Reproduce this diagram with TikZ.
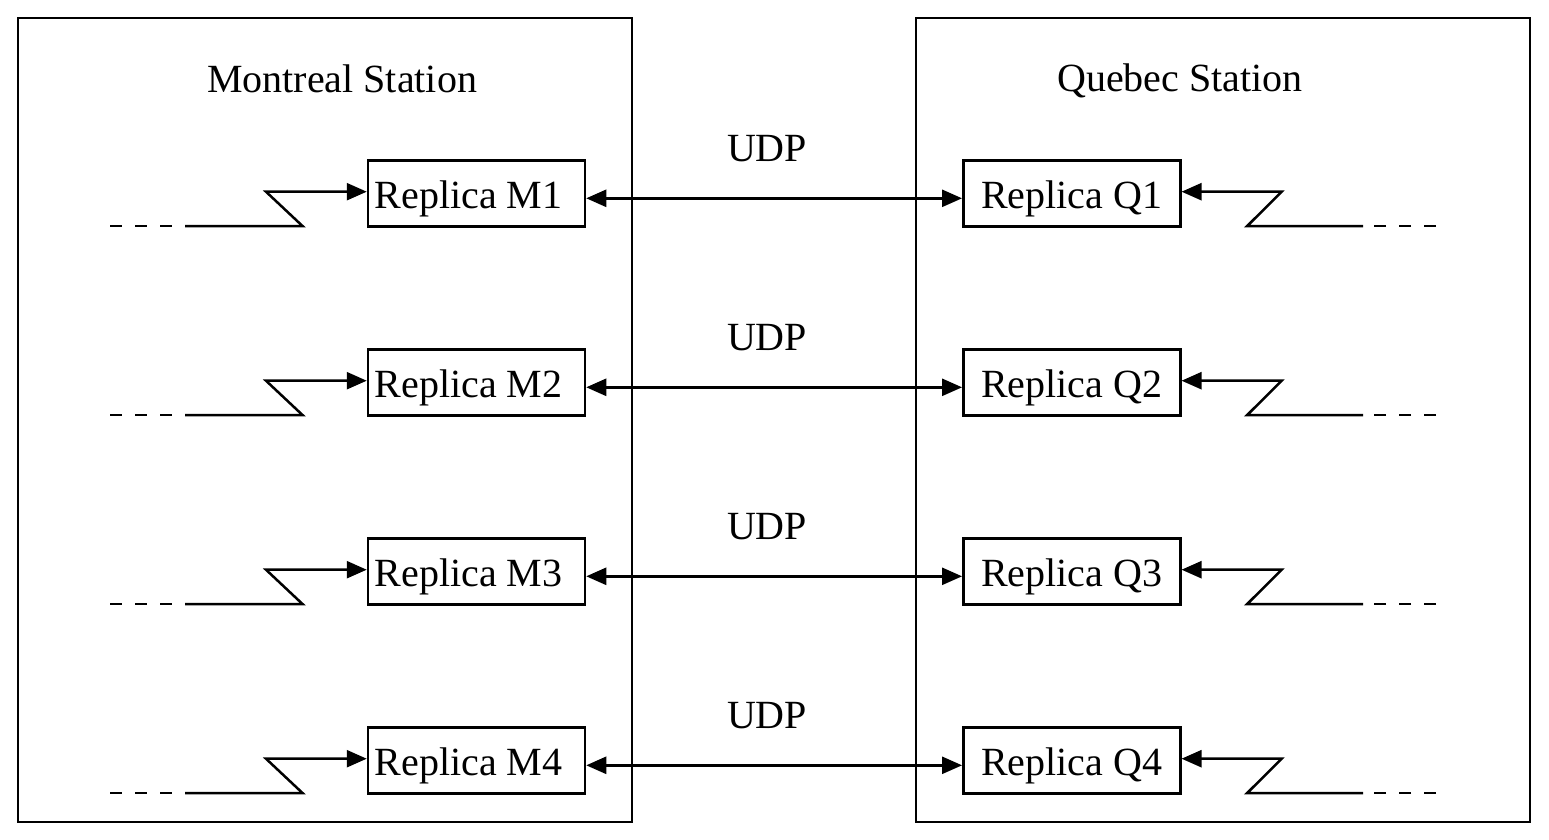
\documentclass[tikz,border=0pt]{standalone}
\usepackage{fontspec}
\setmainfont{Liberation Serif}
\usetikzlibrary{arrows.meta}
\begin{document}
\begin{tikzpicture}[x=1pt,y=-1pt, line width=2.5pt,
  rep/.style={draw, minimum width=217pt, minimum height=66pt, inner sep=0pt, text height=29.2pt, text depth=0pt, font=\fontsize{40}{48}\selectfont},
  station/.style={draw, minimum width=614pt, minimum height=804pt, inner sep=0pt},
  lbl/.style={font=\fontsize{40}{48}\selectfont, inner sep=0pt, anchor=base},
  tip/.style={-{Triangle[length=20pt,width=17pt]}},
  dtip/.style={{Triangle[length=20pt,width=17pt]}-{Triangle[length=20pt,width=17pt]}},
  dsh/.style={dash pattern=on 12pt off 13pt}]
\useasboundingbox (0,0) rectangle (1549,840);
\node[station] (mtl) at (325,420) {};
\node[station] (qbc) at (1223,420) {};
\node[lbl] (mt) at (342,93) {Montreal Station};
\node[lbl] (qt) at (1180,92) {Quebec Station};
\foreach \i/\y in {1/193.7, 2/382.7, 3/571.7, 4/760.7} {
  \node[rep] (M\i) at (476.5,\y) {\hspace*{-16pt}Replica M\i};
  \node[rep] (Q\i) at (1071.8,\y) {Replica Q\i};
  \node[lbl] (U\i) at (767,{\y-32.7}) {UDP};
  \draw[dtip] ([yshift=-4.6pt]M\i.east) -- ([yshift=-4.6pt]Q\i.west);
  \coordinate (mla\i) at (110,{\y+32.5});
  \coordinate (mlb\i) at (185,{\y+32.5});
  \coordinate (mlc\i) at (302.7,{\y+32.5});
  \coordinate (mld\i) at (266,{\y-2});
  \draw[dsh] (mla\i) -- (mlb\i);
  \draw[tip] (mlb\i) -- (mlc\i) -- (mld\i) -- ([yshift=2pt]M\i.west);
  \coordinate (qra\i) at (1436,{\y+32.5});
  \coordinate (qrb\i) at (1363,{\y+32.5});
  \coordinate (qrc\i) at (1247,{\y+32.5});
  \coordinate (qrd\i) at (1281.7,{\y-2});
  \draw[dsh] (qra\i) -- (qrb\i);
  \draw[tip] (qrb\i) -- (qrc\i) -- (qrd\i) -- ([yshift=2pt]Q\i.east);
}
\end{tikzpicture}
\end{document}
